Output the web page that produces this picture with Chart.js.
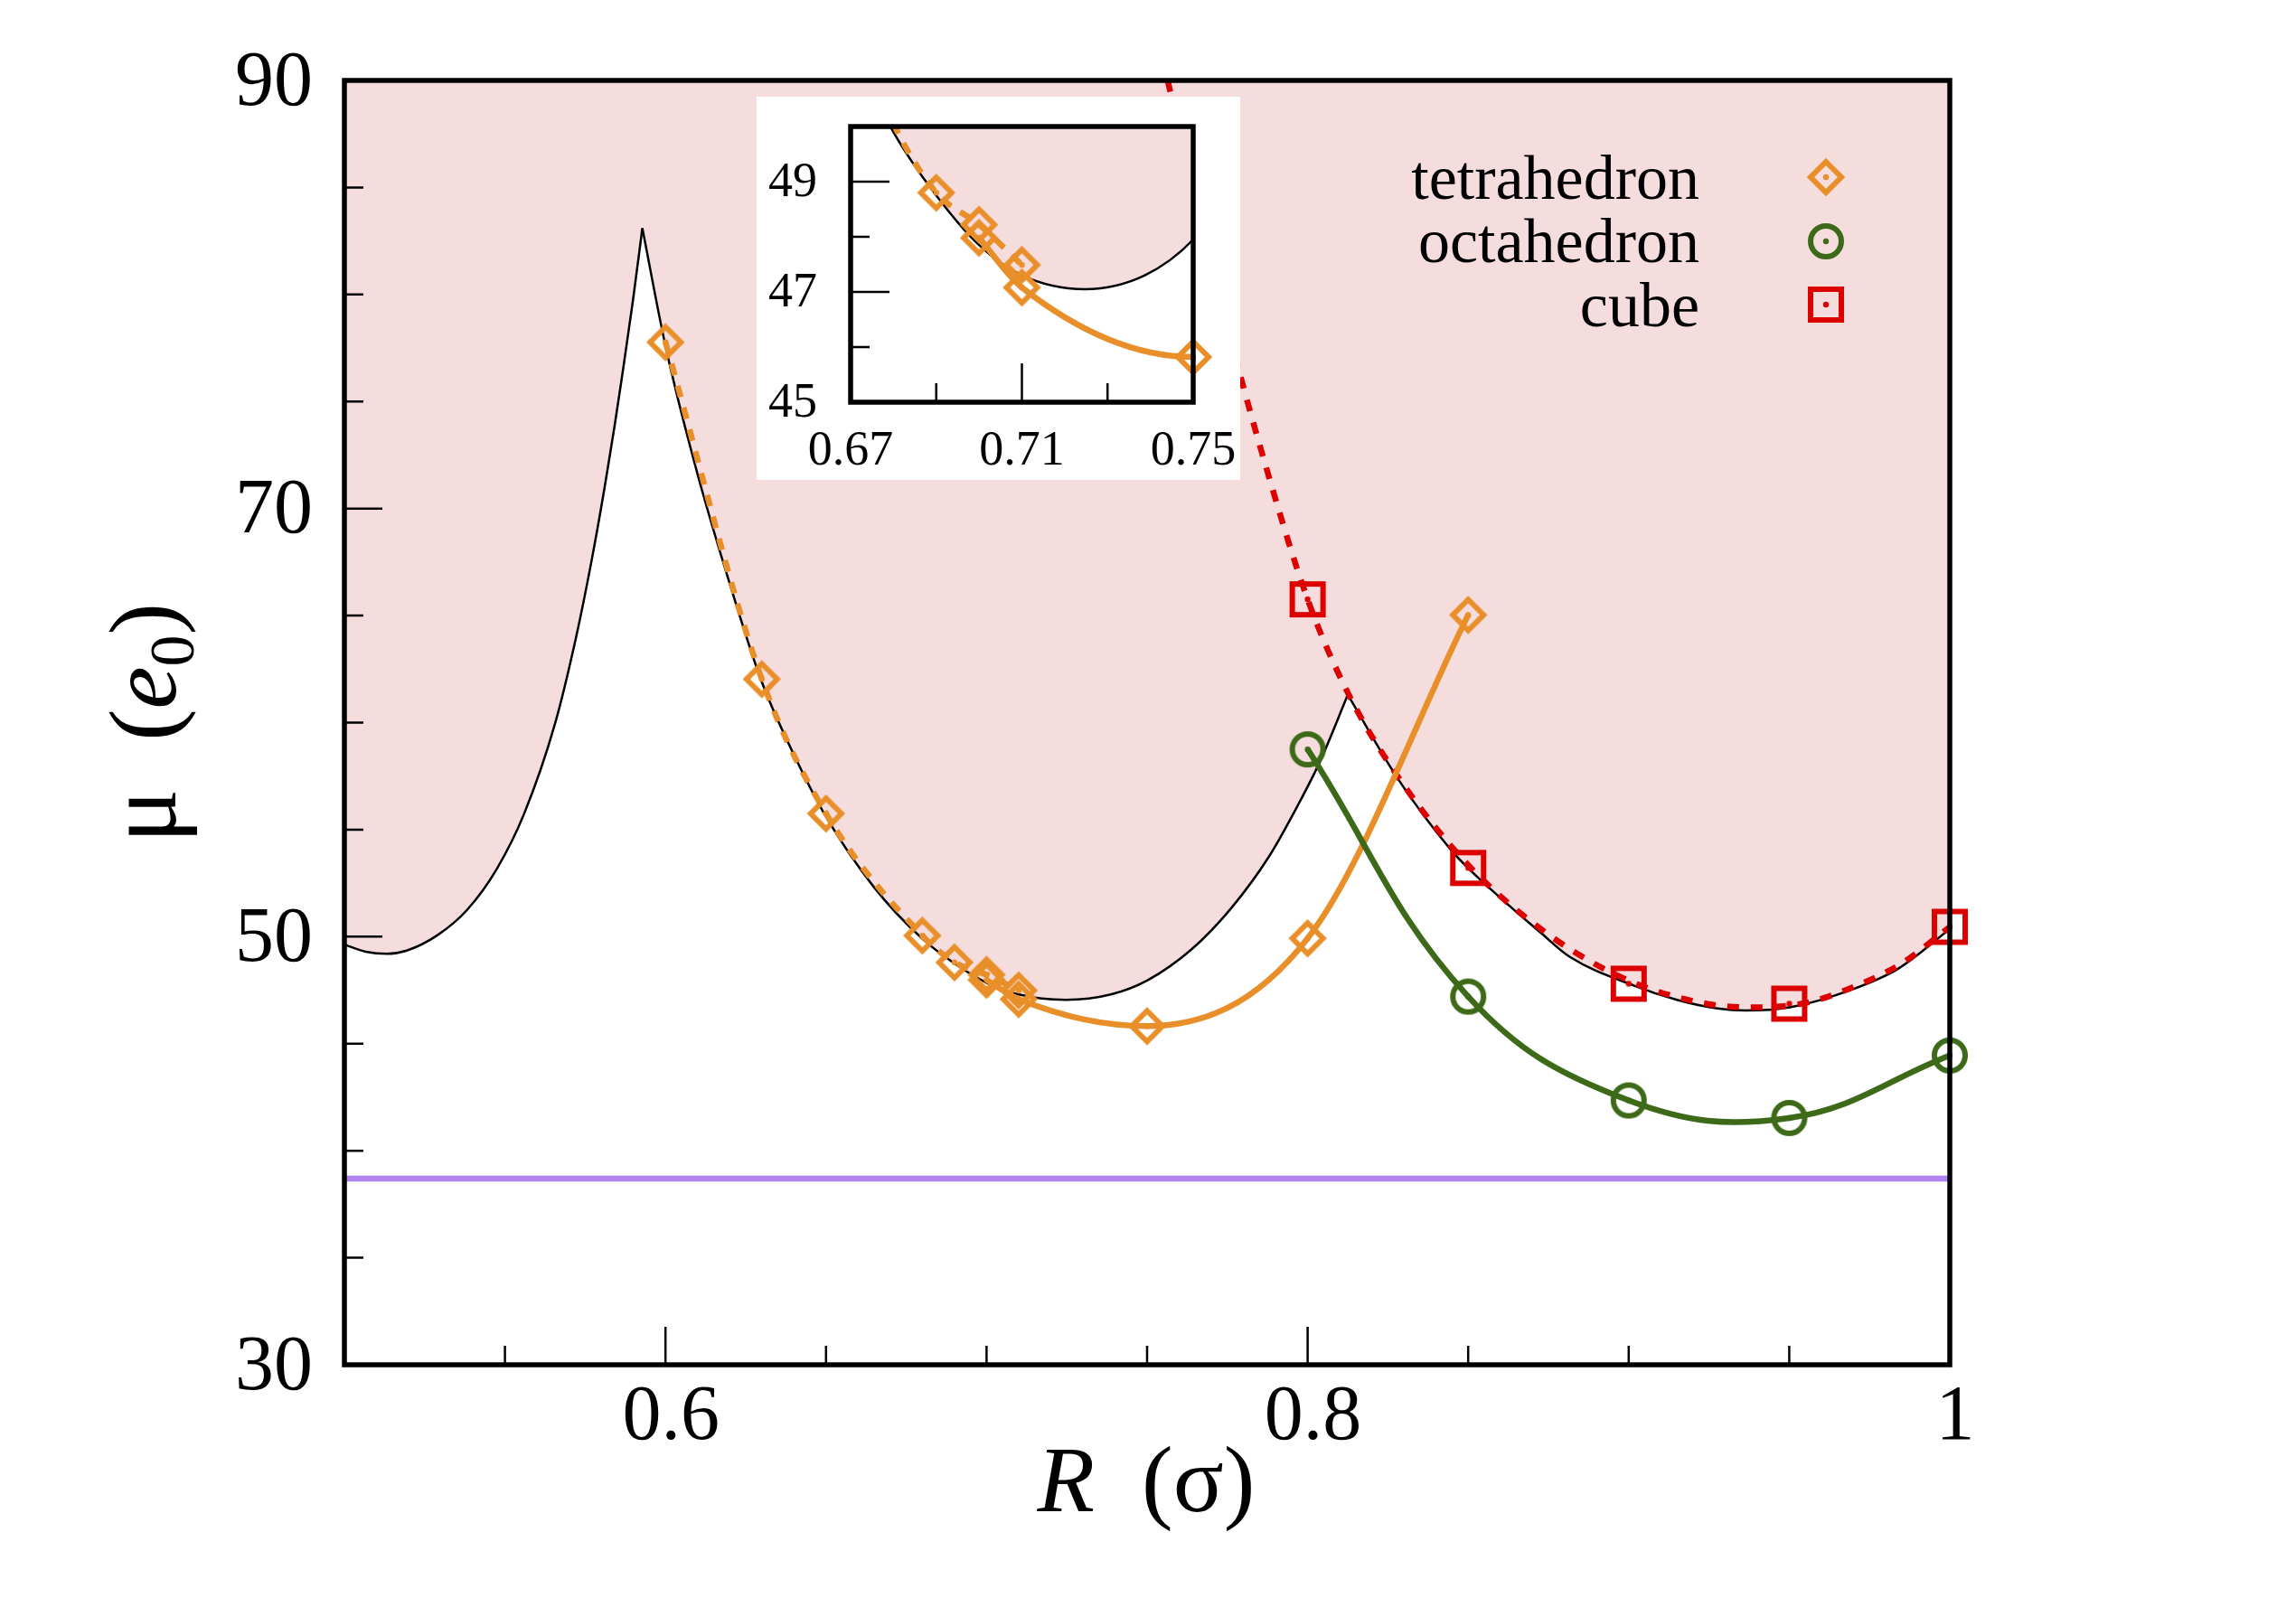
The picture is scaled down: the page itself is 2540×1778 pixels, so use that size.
<!DOCTYPE html>
<html lang="en">
<head>
<meta charset="UTF-8" />
<title>mu vs R</title>
<style>
    html, body { margin: 0; padding: 0; background: #fff; }
    #wrap { position: relative; width: 2540px; height: 1778px; }
    #mainChart { position: absolute; left: 0; top: 0; }
    #insetChart { position: absolute; left: 837px; top: 107px; }
</style>
</head>
<body>
<div id="wrap">
    <canvas id="mainChart" width="2540" height="1778"></canvas>
    <canvas id="insetChart" width="535" height="424"></canvas>
</div>

<script src="https://cdn.jsdelivr.net/npm/chart.js@4"></script>
<script>
    // boundary of the shaded region, split at the two cusps
    const edgeLeftR = [0.5, 0.5066, 0.5132, 0.5194, 0.5288, 0.5382, 0.5476, 0.556, 0.5656, 0.5721, 0.5769, 0.581, 0.5842, 0.5866, 0.5899, 0.5928];
    const edgeLeftMu = [49.63, 49.3, 49.2, 49.35, 50.05, 51.25, 53.2, 55.75, 59.95, 63.95, 67.5, 70.95, 73.9, 76.3, 79.75, 83.1];
    const edgeMidR = [0.5928, 0.6, 0.61, 0.62, 0.63, 0.64, 0.65, 0.665, 0.68, 0.69, 0.70, 0.71, 0.7247, 0.7387, 0.75, 0.7638, 0.7763, 0.788, 0.797, 0.8039, 0.8125];
    const edgeMidMu = [83.1, 77.6, 71.6, 66.5, 61.9, 58.5, 55.6, 52.3, 49.9, 48.75, 47.85, 47.3, 47.05, 47.3, 47.95, 49.4, 51.35, 53.75, 56.15, 58.2, 61.3];
    const edgeRightR = [0.8125, 0.828, 0.8447, 0.85, 0.873, 0.8818, 0.9017, 0.915, 0.9276, 0.9363, 0.9502, 0.9699, 0.9839, 1.0];
    const edgeRightMu = [61.3, 57.4, 54.04, 53.2, 50.13, 49.04, 47.71, 47.05, 46.65, 46.55, 46.7, 47.55, 48.5, 50.35];

    // tetrahedron: upper branch (dotted) and lower branch (solid)
    const tetraUpR = [0.6, 0.63, 0.65, 0.68, 0.69, 0.70, 0.71];
    const tetraUpMu = [77.77, 62.03, 55.75, 50.05, 48.8, 48.22, 47.49];
    const tetraLowR = [0.70, 0.71, 0.75, 0.80, 0.85];
    const tetraLowMu = [47.98, 47.08, 45.82, 49.92, 65.03];

    // octahedron
    const octaR = [0.8, 0.85, 0.9, 0.95, 1.0];
    const octaMu = [58.75, 47.2, 42.35, 41.53, 44.45];

    // cube points and its dotted fit
    const cubeR = [0.8, 0.85, 0.9, 0.95, 1.0];
    const cubeMu = [65.76, 53.21, 47.8, 46.87, 50.46];
    const cubeFitR = [0.7564, 0.765, 0.775, 0.785, 0.8, 0.8125, 0.828, 0.85, 0.875, 0.9, 0.925, 0.94, 0.955, 0.97, 0.985, 1.0];
    const cubeFitMu = [90, 84.5, 78.5, 73.0, 65.76, 61.4, 57.5, 53.35, 50.1, 47.95, 46.85, 46.7, 46.9, 47.65, 48.75, 50.45];

    // horizontal reference level
    const levelR = [0.5, 1.0];
    const levelMu = [38.7, 38.7];

    // ticks
    const xMajor = [0.6, 0.8, 1.0];
    const xTickLabels = ['0.6', '0.8', '1'];
    const xMinor = [0.55, 0.65, 0.7, 0.75, 0.85, 0.9, 0.95];
    const yMajor = [30, 50, 70, 90];
    const yTickLabels = ['30', '50', '70', '90'];
    const yMinor = [35, 40, 45, 55, 60, 65, 75, 80, 85];

    const insetXMajor = [0.67, 0.71, 0.75];
    const insetXLabels = ['0.67', '0.71', '0.75'];
    const insetXMinor = [0.69, 0.73];
    const insetYMajor = [45, 47, 49];
    const insetYLabels = ['45', '47', '49'];
    const insetYMinor = [46, 48];

    const legendNames = ['tetrahedron', 'octahedron', 'cube'];

    const PINK = '#f5dcdd';
    const ORANGE = '#e88f2a';
    const GREEN = '#3c6a18';
    const RED = '#dc0000';
    const PURPLE = '#ae84f2';
    const SERIF = '"Liberation Serif", "Times New Roman", serif';

    function pts(xs, ys) {
        return xs.map((x, i) => ({ x: x, y: ys[i] }));
    }

    // hollow symbol with a dot in the middle
    function makeMarker(shape, color) {
        const s = 52, m = s / 2;
        const c = document.createElement('canvas');
        c.width = s; c.height = s;
        const g = c.getContext('2d');
        g.strokeStyle = color;
        g.fillStyle = color;
        g.lineWidth = 6;
        g.beginPath();
        if (shape === 'diamond') {
            g.moveTo(m, m - 17); g.lineTo(m + 17, m); g.lineTo(m, m + 17); g.lineTo(m - 17, m); g.closePath();
        } else if (shape === 'circle') {
            g.arc(m, m, 17, 0, Math.PI * 2);
        } else {
            g.rect(m - 17, m - 17, 34, 34);
        }
        g.stroke();
        g.beginPath();
        g.arc(m, m, 3.2, 0, Math.PI * 2);
        g.fill();
        return c;
    }
    const diamond = makeMarker('diamond', ORANGE);
    const circle = makeMarker('circle', GREEN);
    const square = makeMarker('square', RED);

    // covers the hairline left between two adjacent filled pieces
    const seamPatch = {
        id: 'seamPatch',
        beforeDatasetsDraw(chart, args, o) {
            const { ctx, chartArea: a } = chart;
            const x = chart.scales.x, y = chart.scales.y;
            ctx.save();
            ctx.strokeStyle = PINK;
            ctx.lineWidth = 3;
            ctx.beginPath();
            o.at.forEach(p => {
                const px = x.getPixelForValue(p[0]);
                ctx.moveTo(px, a.top);
                ctx.lineTo(px, y.getPixelForValue(p[1]) - 4);
            });
            ctx.stroke();
            ctx.restore();
        }
    };

    // frame and inward ticks
    const frameTicks = {
        id: 'frameTicks',
        afterDatasetsDraw(chart, args, o) {
            const { ctx, chartArea: a } = chart;
            const x = chart.scales.x, y = chart.scales.y;
            ctx.save();
            ctx.strokeStyle = '#000';
            ctx.lineWidth = o.tickWidth;
            ctx.beginPath();
            const xt = (list, len) => list.forEach(v => {
                const p = x.getPixelForValue(v);
                ctx.moveTo(p, a.bottom); ctx.lineTo(p, a.bottom - len);
            });
            const yt = (list, len) => list.forEach(v => {
                const p = y.getPixelForValue(v);
                ctx.moveTo(a.left, p); ctx.lineTo(a.left + len, p);
            });
            xt(o.xMajor, o.majorLen); xt(o.xMinor, o.minorLen);
            yt(o.yMajor, o.majorLen); yt(o.yMinor, o.minorLen);
            ctx.stroke();
            ctx.lineWidth = o.frameWidth;
            ctx.strokeRect(a.left, a.top, a.right - a.left, a.bottom - a.top);
            ctx.restore();
        }
    };

    // legend and axis titles of the main panel
    const decorations = {
        id: 'decorations',
        afterDraw(chart) {
            const ctx = chart.ctx;
            ctx.save();
            ctx.fillStyle = '#000';

            // legend
            const marks = [diamond, circle, square];
            const rows = [220, 290, 361];
            const centers = [196, 267, 337];
            ctx.font = '70px ' + SERIF;
            ctx.textAlign = 'right';
            ctx.textBaseline = 'alphabetic';
            legendNames.forEach((t, i) => {
                ctx.fillText(t, 1880, rows[i]);
                ctx.drawImage(marks[i], 2020 - marks[i].width / 2, centers[i] - marks[i].height / 2);
            });

            // x title: R (σ)
            ctx.textAlign = 'left';
            const xParts = [
                { t: 'R', f: 'italic 104px ' + SERIF },
                { t: '  (σ)', f: '104px ' + SERIF }
            ];
            let w = 0;
            xParts.forEach(p => { ctx.font = p.f; p.w = ctx.measureText(p.t).width; w += p.w; });
            let px = 1268 - w / 2;
            xParts.forEach(p => { ctx.font = p.f; ctx.fillText(p.t, px, 1672); px += p.w; });

            // y title: μ (e0)
            ctx.translate(194, 800);
            ctx.rotate(-Math.PI / 2);
            const yParts = [
                { t: 'μ', f: '112px ' + SERIF, dy: 0 },
                { t: '  (', f: '106px ' + SERIF, dy: 0 },
                { t: 'e', f: 'italic 106px ' + SERIF, dy: 0 },
                { t: '0', f: '70px ' + SERIF, dy: 20 },
                { t: ')', f: '106px ' + SERIF, dy: 0 }
            ];
            w = 0;
            yParts.forEach(p => { ctx.font = p.f; p.w = ctx.measureText(p.t).width; w += p.w; });
            px = -w / 2;
            yParts.forEach(p => { ctx.font = p.f; ctx.fillText(p.t, px, p.dy); px += p.w; });
            ctx.restore();
        }
    };

    const whiteBox = {
        id: 'whiteBox',
        beforeDraw(chart) {
            const ctx = chart.ctx;
            ctx.save();
            ctx.fillStyle = '#fff';
            ctx.fillRect(0, 0, chart.width, chart.height);
            ctx.restore();
        }
    };

    function edgeSet(xs, ys) {
        return {
            data: pts(xs, ys),
            borderColor: '#000',
            borderWidth: 2.5,
            backgroundColor: PINK,
            fill: 'end',
            pointRadius: 0,
            cubicInterpolationMode: 'monotone'
        };
    }

    function buildSets(inset) {
        // hide symbols that fall outside the inset window
        const symRadius = ctx => {
            if (!inset) return 18;
            const r = ctx.raw;
            return (r && (r.y > 50 || r.x < 0.67 || r.x > 0.75)) ? 0 : 18;
        };
        const symClip = inset ? { left: 0, top: 0, right: false, bottom: 0 } : false;
        return [
            {   // cube symbols
                data: pts(cubeR, cubeMu), showLine: false,
                pointStyle: square, pointRadius: symRadius, clip: symClip
            },
            {   // octahedron
                data: pts(octaR, octaMu), borderColor: GREEN, borderWidth: 6.5, tension: 0.4,
                pointStyle: circle, pointRadius: symRadius, clip: symClip
            },
            {   // tetrahedron, lower branch
                data: pts(tetraLowR, tetraLowMu), borderColor: ORANGE, borderWidth: 6.5,
                cubicInterpolationMode: 'monotone',
                pointStyle: diamond, pointRadius: symRadius, clip: symClip
            },
            {   // tetrahedron, upper branch
                data: pts(tetraUpR, tetraUpMu), borderColor: ORANGE, borderWidth: 6.5,
                borderDash: [13, 12], cubicInterpolationMode: 'monotone',
                pointStyle: diamond, pointRadius: symRadius, clip: symClip
            },
            {   // cube fit
                data: pts(cubeFitR, cubeFitMu), borderColor: RED, borderWidth: 6.5,
                borderDash: [13, 13], cubicInterpolationMode: 'monotone', pointRadius: 0
            },
            {
                data: pts(levelR, levelMu), borderColor: PURPLE, borderWidth: 6.5, pointRadius: 0
            },
            edgeSet(edgeLeftR, edgeLeftMu),
            edgeSet(edgeMidR, edgeMidMu),
            edgeSet(edgeRightR, edgeRightMu)
        ];
    }

    function axis(min, max, majors, labels, size, pad, shift, fit) {
        return {
            type: 'linear', min: min, max: max,
            grid: { display: false }, border: { display: false },
            afterBuildTicks: s => { s.ticks = majors.map(v => ({ value: v })); },
            afterFit: s => {
                fit(s);
                s.paddingLeft = s.paddingRight = s.paddingTop = s.paddingBottom = 0;
            },
            ticks: {
                color: '#000', padding: pad, labelOffset: shift, autoSkip: false, maxRotation: 0,
                font: { family: SERIF, size: size },
                callback: (v, i) => labels[i]
            }
        };
    }

    new Chart(document.getElementById('mainChart'), {
        type: 'line',
        data: { datasets: buildSets(false) },
        options: {
            responsive: false, animation: false, devicePixelRatio: 1, events: [],
            layout: { padding: { left: 0, top: 89, right: 383, bottom: 0 } },
            plugins: {
                legend: { display: false }, tooltip: { enabled: false },
                filler: { drawTime: 'beforeDatasetsDraw' },
                seamPatch: { at: [[edgeMidR[0], edgeMidMu[0]], [edgeRightR[0], edgeRightMu[0]]] },
                frameTicks: {
                    xMajor: xMajor, xMinor: xMinor, yMajor: yMajor, yMinor: yMinor,
                    majorLen: 42, minorLen: 21, tickWidth: 2.5, frameWidth: 5.5
                }
            },
            scales: {
                x: axis(0.5, 1.0, xMajor, xTickLabels, 86, 0, 6, s => { s.height = 268; }),
                y: axis(30, 90, yMajor, yTickLabels, 86, 27, 4, s => { s.width = 381; })
            }
        },
        plugins: [seamPatch, frameTicks, decorations]
    });

    new Chart(document.getElementById('insetChart'), {
        type: 'line',
        data: { datasets: buildSets(true) },
        options: {
            responsive: false, animation: false, devicePixelRatio: 1, events: [],
            layout: { padding: { left: 0, top: 33, right: 52, bottom: 0 } },
            plugins: {
                legend: { display: false }, tooltip: { enabled: false },
                filler: { drawTime: 'beforeDatasetsDraw' },
                frameTicks: {
                    xMajor: insetXMajor, xMinor: insetXMinor, yMajor: insetYMajor, yMinor: insetYMinor,
                    majorLen: 43, minorLen: 21, tickWidth: 2.5, frameWidth: 5.5
                }
            },
            scales: {
                x: axis(0.67, 0.75, insetXMajor, insetXLabels, 54, 14, 0, s => { s.height = 86; }),
                y: axis(45, 50, insetYMajor, insetYLabels, 54, 29, 2, s => { s.width = 104; })
            }
        },
        plugins: [whiteBox, frameTicks]
    });
</script>
</body>
</html>
